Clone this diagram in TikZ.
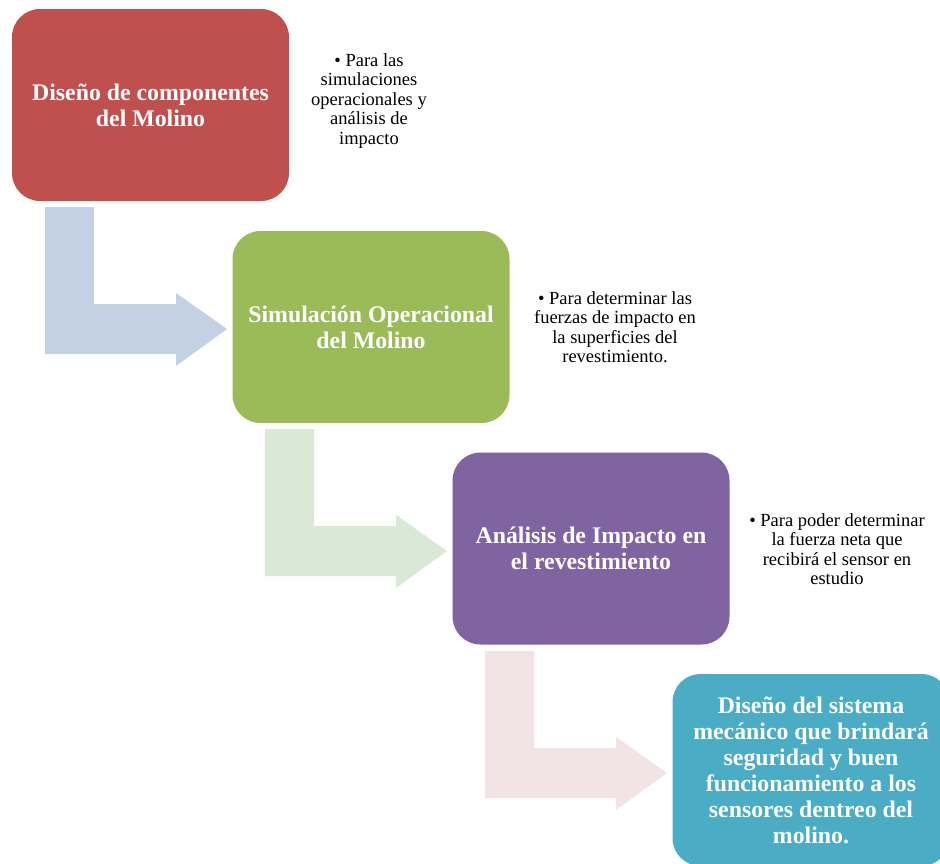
\documentclass[tikz,border=0pt]{standalone}
\usepackage{fontspec}
\setmainfont{Liberation Serif}
\definecolor{cRed}{HTML}{C0504D}
\definecolor{cGreen}{HTML}{9BBB59}
\definecolor{cPurple}{HTML}{8064A2}
\definecolor{cTeal}{HTML}{4BACC6}
\definecolor{aBlue}{HTML}{C4D0E3}
\definecolor{aGreen}{HTML}{D9E9D6}
\definecolor{aPink}{HTML}{F2E4E4}
\tikzset{
  stepbox/.style={rounded corners=28pt, minimum width=277pt, minimum height=192pt,
    inner sep=0pt, text=white, align=center,
    font=\fontsize{23.8}{26}\selectfont\bfseries},
  note/.style={align=center, inner sep=0pt, text=black,
    font=\fontsize{18.5}{19.5}\selectfont},
  bentarrow/.pic={
    \fill[#1] (0,0) -- (49,0) -- (49,97) -- (131,97) -- (131,86) -- (182,122)
      -- (131,159) -- (131,147) -- (0,147) -- cycle;
  }
}
\begin{document}
\begin{tikzpicture}[x=1pt,y=-1pt]
\useasboundingbox (0,0) rectangle (940,863);
\clip (0,0) rectangle (940,863);
% arrows
\pic at (45,207) {bentarrow=aBlue};
\pic at (265,429) {bentarrow=aGreen};
\pic at (485,651) {bentarrow=aPink};
% boxes
\node[stepbox, fill=cRed] (b1) at (150.5,105) {Diseño de componentes\\del Molino};
\node[stepbox, fill=cGreen] (b2) at (371,327) {Simulación Operacional\\del Molino};
\node[stepbox, fill=cPurple] (b3) at (591,548.5) {Análisis de Impacto en\\el revestimiento};
\node[stepbox, fill=cTeal] (b4) at (811,770) {Diseño del sistema\\mecánico que brindará\\seguridad y buen\\funcionamiento a los\\sensores dentreo del\\molino.};
% notes
\node[note] (n1) at (369,101) {\textbullet{} Para las\\simulaciones\\operacionales y\\análisis de\\impacto};
\node[note] (n2) at (615,327) {\textbullet{} Para determinar las\\fuerzas de impacto en\\la superficies del\\revestimiento.};
\node[note] (n3) at (837,549) {\textbullet{} Para poder determinar\\la fuerza neta que\\recibirá el sensor en\\estudio};
\end{tikzpicture}
\end{document}
